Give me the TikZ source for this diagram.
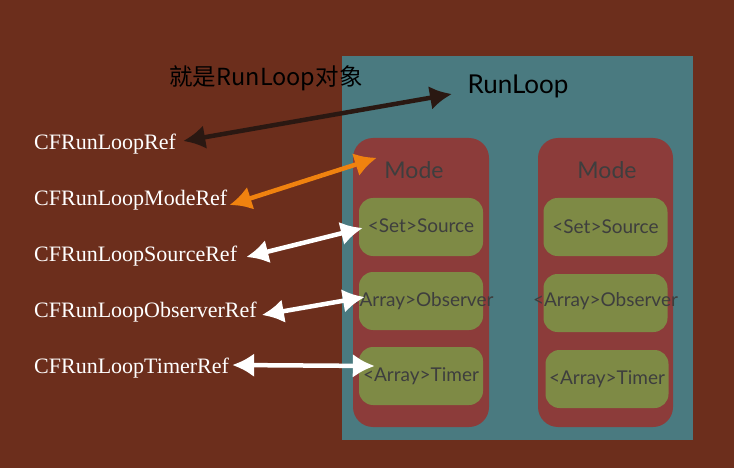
\documentclass[tikz,border=0pt]{standalone}
\usepackage{fontspec}
\setmainfont{Liberation Serif}
\newfontfamily\modefont{Lato}
\newfontfamily\cjkfont{Noto Sans CJK SC}
\usetikzlibrary{arrows.meta,calc}
\definecolor{woodbg}{HTML}{6C2E1C}
\definecolor{frameteal}{HTML}{4A7A80}
\definecolor{modered}{HTML}{8C3C3A}
\definecolor{itemgreen}{HTML}{7E8A45}
\definecolor{darktext}{HTML}{3E3E3E}
\definecolor{chalkblack}{HTML}{2A1812}
\definecolor{chalkorange}{HTML}{F0820F}
\tikzset{
  modebox/.style={fill=modered, rounded corners=20pt, minimum width=136pt, minimum height=289pt, inner sep=0pt},
  modetitle/.style={text=darktext, font=\modefont\fontsize{23}{23}\selectfont},
  itembox/.style={fill=itemgreen, rounded corners=14pt, minimum width=124pt, minimum height=58pt, inner sep=0pt, text=darktext, font=\modefont\fontsize{19}{19}\selectfont},
  reflabel/.style={anchor=west, text=white, inner sep=1pt, font=\fontsize{22}{22}\selectfont},
  chalk/.style={line width=4.5pt, line cap=round, {Latex[length=22pt,width=24pt]}-{Latex[length=22pt,width=24pt]}},
}
\begin{document}
\begin{tikzpicture}[x=1pt,y=-1pt]
\useasboundingbox (0,0) rectangle (734,468);
\fill[woodbg] (0,0) rectangle (734,468);
% the RunLoop frame
\fill[frameteal] (342,56) rectangle (693,440);
\node[font=\modefont\fontsize{26}{26}\selectfont] (runloop) at (518,86) {RunLoop};
\node[font=\cjkfont\fontsize{23.5}{23.5}\selectfont] (title) at (266,78) {就是RunLoop对象};
% two modes
\node[modebox] (modeA) at (421,282.5) {};
\node[modebox, minimum width=135pt] (modeB) at (605.5,282.5) {};
\node[modetitle] (modeAt) at (414,170) {Mode};
\node[modetitle] (modeBt) at (607,170) {Mode};
\node[itembox] (srcA) at (421,227) {\makebox[0pt]{\raisebox{3pt}{<Set>Source}}};
\node[itembox] (obsA) at (421,301) {\makebox[0pt]{\raisebox{-1pt}{<Array>Observer}}};
\node[itembox] (tmrA) at (421,376) {\makebox[0pt]{\raisebox{-2pt}{<Array>Timer}}};
\node[itembox] (srcB) at (605.5,227) {\makebox[0pt]{<Set>Source}};
\node[itembox] (obsB) at (605.5,303) {\makebox[0pt]{\raisebox{6pt}{<Array>Observer}}};
\node[itembox, minimum width=123pt] (tmrB) at (607,379) {\makebox[0pt]{\raisebox{3pt}{<Array>Timer}}};
% CF types
\node[reflabel] (loopref) at (33,144) {CFRunLoopRef};
\node[reflabel] (moderef) at (33,200) {CFRunLoopModeRef};
\node[reflabel] (srcref) at (33,256) {CFRunLoopSourceRef};
\node[reflabel] (obsref) at (33,312) {CFRunLoopObserverRef};
\node[reflabel] (tmrref) at (33,368) {CFRunLoopTimerRef};
% chalk arrows
\draw[chalk, chalkblack] ($(loopref.east)+(6,-3)$) -- ($(runloop.west)+(-12,8)$);
\draw[chalk, chalkorange] ($(moderef.east)+(1,5)$) -- ($(modeA.north west)+(24,20)$);
\draw[chalk, white] ($(srcref.east)+(8,1)$) -- ($(srcA.west)+(4,1)$);
\draw[chalk, white] ($(obsref.east)+(4,3)$) -- ($(obsA.west)+(6,-4)$);
\draw[chalk, white] ($(tmrref.east)+(2,-3)$) -- ($(tmrA.west)+(16,-10)$);
\end{tikzpicture}
\end{document}
